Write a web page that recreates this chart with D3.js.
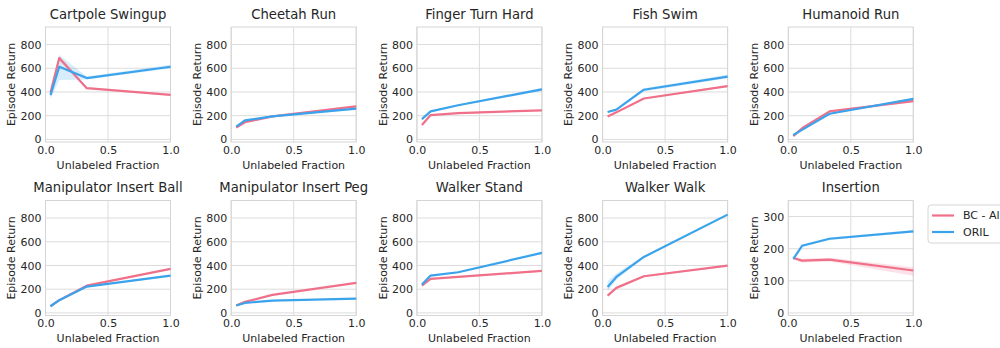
<!DOCTYPE html>
<html>
<head>
<meta charset="utf-8">
<script src="https://cdn.jsdelivr.net/npm/d3@7"></script>
<style>
  body { margin: 0; background: #fff; }
  svg { display: block; font-family: "DejaVu Sans", sans-serif; }
</style>
</head>
<body>
<script>
// data
var tasks = ["Cartpole Swingup", "Cheetah Run", "Finger Turn Hard", "Fish Swim", "Humanoid Run",
  "Manipulator Insert Ball", "Manipulator Insert Peg", "Walker Stand", "Walker Walk", "Insertion"];
var fractions = [0.04, 0.11, 0.33, 1.0];
var seriesNames = ["BC - All", "ORIL"];
var seriesColors = ["#f0708a", "#3ba3ec"];
var xTicks = [0, 0.5, 1.0];
var yTicks = [0, 200, 400, 600, 800];
var yTicksInsertion = [0, 100, 200, 300];

var bcMean = [
  [396, 686, 432, 376], [100, 145, 194, 279], [122, 205, 222, 245], [194, 228, 345, 450], [28, 94, 236, 322],
  [56, 107, 230, 371], [62, 93, 152, 253], [230, 287, 303, 354], [146, 211, 309, 399], [171, 163, 166, 132]];
var bcLow = [
  [385, 660, 425, 368], [95, 138, 188, 270], [115, 199, 217, 239], [187, 221, 338, 442], [24, 88, 229, 314],
  [52, 102, 224, 364], [58, 88, 147, 247], [224, 281, 297, 347], [138, 202, 301, 391], [166, 157, 160, 116]];
var bcHigh = [
  [405, 705, 440, 384], [106, 152, 200, 288], [129, 211, 227, 251], [201, 235, 352, 458], [33, 100, 243, 330],
  [60, 112, 236, 378], [66, 98, 157, 259], [236, 293, 309, 361], [154, 220, 317, 407], [176, 169, 172, 142]];

var orilMean = [
  [373, 613, 517, 613], [108, 160, 194, 259], [171, 236, 288, 422], [231, 251, 419, 530], [37, 80, 216, 342],
  [56, 107, 222, 315], [62, 84, 104, 121], [239, 315, 343, 506], [219, 303, 472, 829], [168, 209, 231, 254]];
var orilLow = [
  [340, 500, 505, 597], [102, 153, 189, 250], [163, 229, 281, 408], [224, 243, 405, 515], [33, 75, 210, 334],
  [52, 102, 216, 308], [58, 80, 100, 116], [232, 307, 336, 497], [180, 280, 462, 820], [164, 205, 227, 250]];
var orilHigh = [
  [420, 712, 530, 630], [114, 167, 200, 268], [179, 243, 295, 436], [238, 259, 432, 545], [42, 86, 222, 350],
  [60, 112, 228, 322], [66, 88, 108, 126], [246, 323, 350, 515], [268, 332, 482, 838], [172, 213, 235, 258]];

var W = 1000, H = 348;
var pw = 125, ph = 115;
var textColor = "#262626";

var svg = d3.select("body").append("svg")
  .attr("width", W)
  .attr("height", H);
svg.append("rect").attr("width", W).attr("height", H).attr("fill", "#fff");

tasks.forEach(function(name, i) {
  var col = i % 5, row = Math.floor(i / 5);
  var left = 45.5 + col * 185.7;
  var top = row === 0 ? 27 : 200.5;
  var isIns = name === "Insertion";

  var x = d3.scaleLinear().domain([0, 1]).range([0, pw]);
  var y = d3.scaleLinear().domain(isIns ? [-8, 350] : [-22, 948]).range([ph, 0]);
  var yt = isIns ? yTicksInsertion : yTicks;

  var g = svg.append("g").attr("transform", "translate(" + left + "," + top + ")");

  // grid
  g.selectAll(".gy").data(yt).enter().append("line")
    .attr("x1", 0).attr("x2", pw)
    .attr("y1", function(d) { return y(d); }).attr("y2", function(d) { return y(d); })
    .attr("stroke", "#dcdcdc").attr("stroke-width", 1);
  g.selectAll(".gx").data(xTicks).enter().append("line")
    .attr("y1", 0).attr("y2", ph)
    .attr("x1", function(d) { return x(d); }).attr("x2", function(d) { return x(d); })
    .attr("stroke", "#dcdcdc").attr("stroke-width", 1);

  // frame
  g.append("rect").attr("width", pw).attr("height", ph)
    .attr("fill", "none").attr("stroke", "#d5d5d5").attr("stroke-width", 1);

  // axes (labels only)
  var ya = g.append("g").call(d3.axisLeft(y).tickValues(yt).tickSize(0).tickPadding(4));
  var xa = g.append("g").attr("transform", "translate(0," + ph + ")")
    .call(d3.axisBottom(x).tickValues(xTicks).tickSize(0).tickPadding(4).tickFormat(d3.format(".1f")));
  [ya, xa].forEach(function(a) {
    a.select(".domain").remove();
    a.selectAll("text").attr("fill", textColor).style("font-size", "11px")
      .style("font-family", "'DejaVu Sans', sans-serif");
  });

  // bands + lines
  var sets = [
    [bcMean[i], bcLow[i], bcHigh[i], seriesColors[0]],
    [orilMean[i], orilLow[i], orilHigh[i], seriesColors[1]]
  ];
  var area = d3.area()
    .x(function(d) { return x(d.f); })
    .y0(function(d) { return y(d.lo); })
    .y1(function(d) { return y(d.hi); });
  var line = d3.line()
    .x(function(d) { return x(d.f); })
    .y(function(d) { return y(d.m); });
  sets.forEach(function(s) {
    var pts = fractions.map(function(f, k) { return {f: f, m: s[0][k], lo: s[1][k], hi: s[2][k]}; });
    g.append("path").datum(pts).attr("d", area)
      .attr("fill", s[3]).attr("fill-opacity", 0.2).attr("stroke", "none");
  });
  sets.forEach(function(s) {
    var pts = fractions.map(function(f, k) { return {f: f, m: s[0][k]}; });
    g.append("path").datum(pts).attr("d", line)
      .attr("fill", "none").attr("stroke", s[3]).attr("stroke-width", 2.2)
      .attr("stroke-linejoin", "round");
  });

  // title and axis labels
  g.append("text")
    .attr("x", pw / 2).attr("y", -8.5)
    .attr("text-anchor", "middle")
    .attr("fill", textColor)
    .style("font-size", "13.2px")
    .text(name);
  g.append("text")
    .attr("x", pw / 2).attr("y", ph + 26.5)
    .attr("text-anchor", "middle")
    .attr("fill", textColor)
    .style("font-size", "11px")
    .text("Unlabeled Fraction");
  g.append("text")
    .attr("transform", "translate(" + (-34) + "," + (ph / 2) + ") rotate(-90)")
    .attr("text-anchor", "middle")
    .attr("dy", "0.35em")
    .attr("fill", textColor)
    .style("font-size", "11px")
    .text("Episode Return");
});

// legend
var lg = svg.append("g").attr("transform", "translate(928,205)");
lg.append("rect")
  .attr("width", 90).attr("height", 38).attr("rx", 3)
  .attr("fill", "#fff").attr("stroke", "#d5d5d5");
seriesNames.forEach(function(n, k) {
  var yy = 10.5 + k * 16.5;
  lg.append("line").attr("x1", 4).attr("x2", 26).attr("y1", yy).attr("y2", yy)
    .attr("stroke", seriesColors[k]).attr("stroke-width", 2.2);
  lg.append("text").attr("x", 35).attr("y", yy).attr("dy", "0.35em")
    .attr("fill", textColor).style("font-size", "11px").text(n);
});
</script>
</body>
</html>
